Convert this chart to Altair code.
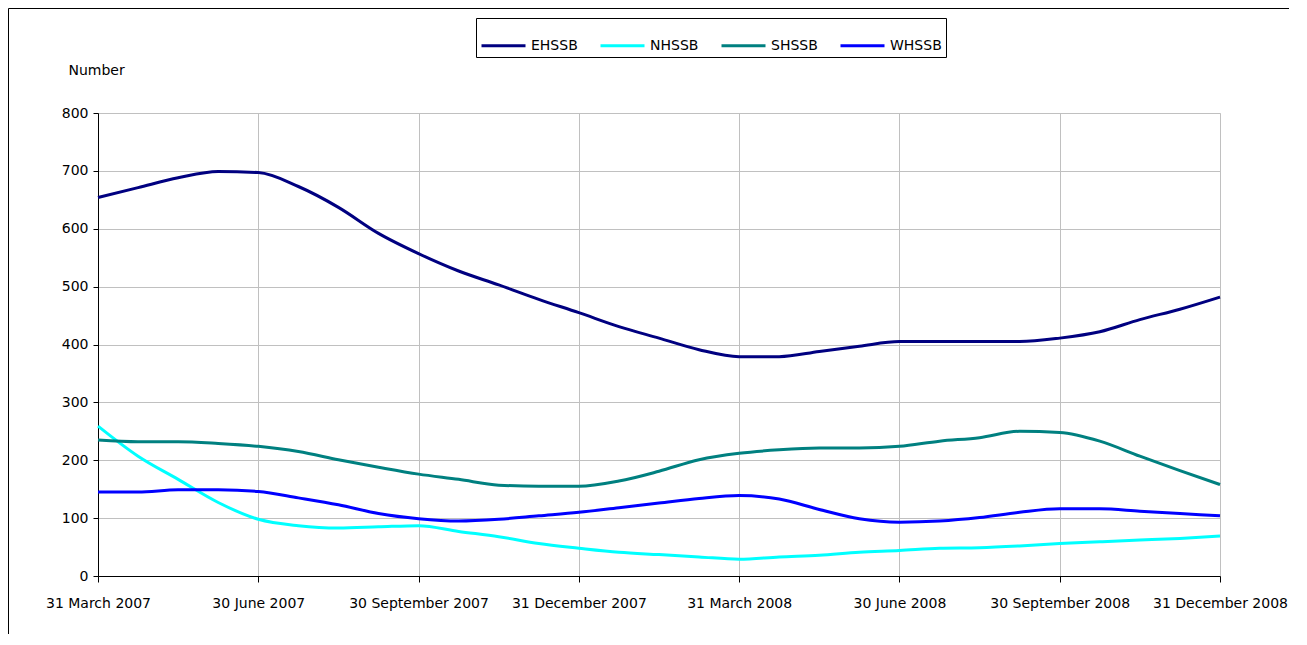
import altair as alt
import pandas as pd

series_names = ["EHSSB", "NHSSB", "SHSSB", "WHSSB"]
series_colors = ["#000080", "#00FFFF", "#008080", "#0000FF"]

tick_labels = ["31 March 2007", "30 June 2007", "30 September 2007", "31 December 2007",
               "31 March 2008", "30 June 2008", "30 September 2008", "31 December 2008"]

ehssb = [654, 671, 688, 699, 697, 673, 637, 592, 557, 527, 503, 478, 455, 431, 411,
         391, 379, 379, 388, 397, 405, 405, 405, 405, 411, 422, 443, 461, 482]
nhssb = [259, 207, 167, 127, 98, 87, 83, 85, 87, 77, 68, 56, 48, 41, 37,
         33, 29, 33, 36, 41, 44, 48, 49, 52, 56, 59, 62, 65, 69]
shssb = [235, 232, 232, 229, 224, 215, 201, 188, 176, 167, 157, 155, 155, 164, 181,
         201, 212, 218, 221, 221, 224, 233, 239, 250, 248, 233, 207, 182, 158]
whssb = [145, 145, 149, 149, 146, 135, 123, 108, 99, 95, 98, 104, 110, 118, 126,
         134, 139, 133, 115, 99, 93, 95, 101, 110, 116, 116, 112, 108, 104]

values = {"EHSSB": ehssb, "NHSSB": nhssb, "SHSSB": shssb, "WHSSB": whssb}
rows = []
for name in series_names:
    for i, v in enumerate(values[name]):
        rows.append({"idx": i, "value": v, "series": name})
df = pd.DataFrame(rows)

n = len(ehssb)
tick_vals = list(range(0, n, 4))
label_expr = "[" + ",".join("'" + t + "'" for t in tick_labels) + "][round(datum.value/4)]"

FONT = "DejaVu Sans"
FS = 14
W, H = 1122, 463

lines = alt.Chart(df).mark_line(strokeWidth=3, interpolate="monotone").encode(
    x=alt.X("idx:Q", scale=alt.Scale(domain=[0, n - 1], nice=False, zero=False),
            axis=alt.Axis(values=tick_vals, labelExpr=label_expr, title=None,
                          grid=True, gridColor="#c0c0c0", tickSize=6, tickColor="#000000",
                          domainColor="#000000", labelPadding=14, labelFontSize=FS,
                          labelColor="#000000", labelFont=FONT, labelFlush=False)),
    y=alt.Y("value:Q", scale=alt.Scale(domain=[0, 800], nice=False),
            axis=alt.Axis(values=list(range(0, 801, 100)), title="Number",
                          titleAngle=0, titleX=-30, titleY=-43, titleAlign="left",
                          titleBaseline="middle", titleFontWeight="normal",
                          titleFontSize=FS, titleFont=FONT, titleColor="#000000",
                          grid=True, gridColor="#c0c0c0", tickSize=5, tickColor="#000000",
                          domainColor="#000000", labelPadding=5, labelFontSize=FS,
                          labelColor="#000000", labelFont=FONT)),
    color=alt.Color("series:N",
                    scale=alt.Scale(domain=series_names, range=series_colors),
                    legend=alt.Legend(title=None, orient="none", legendX=378, legendY=-95,
                                      direction="horizontal", symbolType="stroke",
                                      symbolStrokeWidth=3, symbolSize=1936,
                                      labelFontSize=FS, labelFont=FONT, labelColor="#000000",
                                      strokeColor="#000000", fillColor="#ffffff",
                                      padding=4, columnPadding=16, labelOffset=4)),
)

frame = alt.Chart(pd.DataFrame({"a": [0]})).mark_rect(
    fill=None, stroke="#000000", strokeWidth=1, clip=False
).encode(x=alt.value(-89.5), x2=alt.value(1200.5), y=alt.value(-104.5), y2=alt.value(540))

chart = alt.layer(frame, lines).properties(
    width=W, height=H,
    autosize=alt.AutoSizeParams(type="none"),
    padding={"left": 90, "top": 105, "right": 69, "bottom": 58},
).configure_view(stroke="#808080", strokeWidth=1).configure(background="#ffffff")

chart.save("out.html", embed_options={"renderer": "svg", "actions": False})
